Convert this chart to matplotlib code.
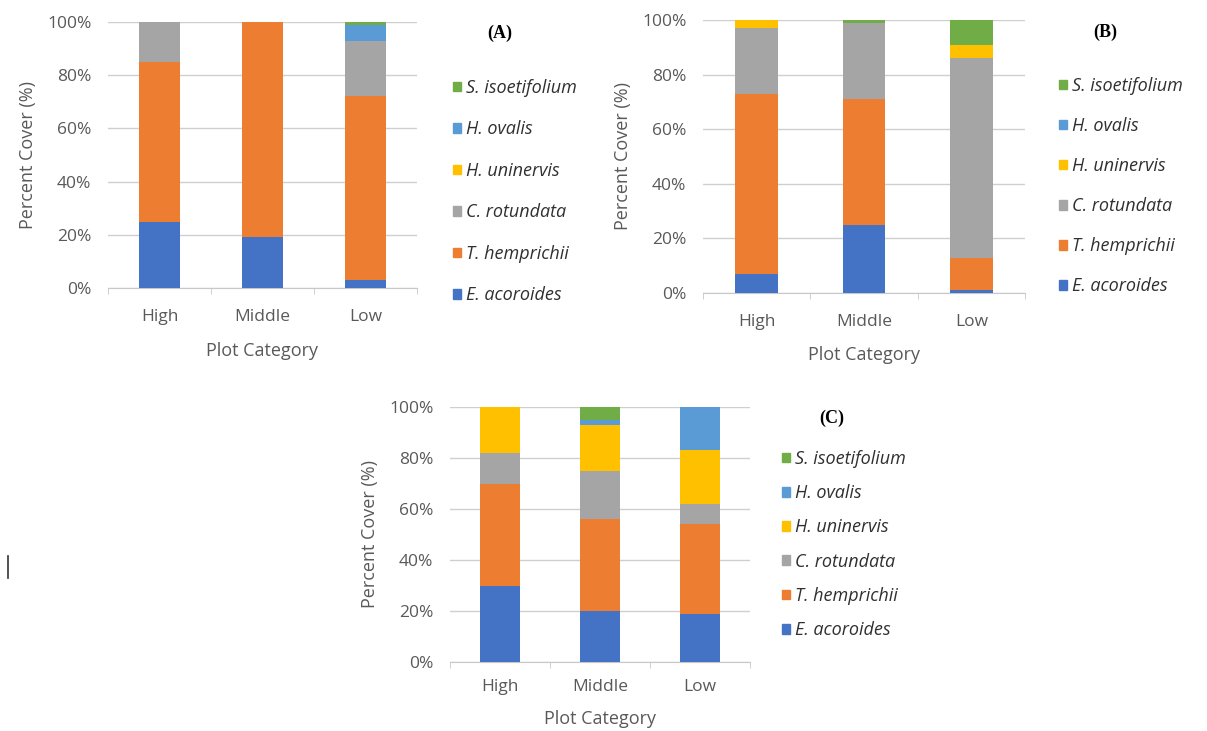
import numpy as np
import matplotlib
matplotlib.use("Agg")
import matplotlib.pyplot as plt
from matplotlib.patches import Patch

plt.rcParams['font.family'] = ['Open Sans', 'DejaVu Sans']

# Plot categories and species (bottom of the stack first)
categories = ['High', 'Middle', 'Low']
species = ['E. acoroides', 'T. hemprichii', 'C. rotundata',
           'H. uninervis', 'H. ovalis', 'S. isoetifolium']
colors = ['#4472C4', '#ED7D31', '#A5A5A5', '#FFC000', '#5B9BD5', '#70AD47']

# Percent cover per species, one list per category order High/Middle/Low
cover_a = {
    'E. acoroides':    [25, 19, 3],
    'T. hemprichii':   [60, 81, 69],
    'C. rotundata':    [15, 0, 21],
    'H. uninervis':    [0, 0, 0],
    'H. ovalis':       [0, 0, 6],
    'S. isoetifolium': [0, 0, 1],
}
cover_b = {
    'E. acoroides':    [7, 25, 1],
    'T. hemprichii':   [66, 46, 12],
    'C. rotundata':    [24, 28, 73],
    'H. uninervis':    [3, 0, 5],
    'H. ovalis':       [0, 0, 0],
    'S. isoetifolium': [0, 1, 9],
}
cover_c = {
    'E. acoroides':    [30, 20, 19],
    'T. hemprichii':   [40, 36, 35],
    'C. rotundata':    [12, 19, 8],
    'H. uninervis':    [18, 18, 21],
    'H. ovalis':       [0, 2, 17],
    'S. isoetifolium': [0, 5, 0],
}

fig = plt.figure(figsize=(12.07, 7.31), dpi=100)
W, H = 1207, 731
TXT = '#595959'


def stacked_panel(rect, data, tag, tag_xy, legend_xy, labelspacing, xpad, xlpad):
    ax = fig.add_axes(rect)
    x = np.arange(len(categories))
    bottom = np.zeros(len(categories))
    for sp, col in zip(species, colors):
        vals = np.array(data[sp], dtype=float)
        ax.bar(x, vals, 0.4, bottom=bottom, color=col, label=sp, zorder=3)
        bottom += vals
    ax.set_xlim(-0.5, 2.5)
    ax.set_ylim(0, 100)
    ax.set_yticks(np.arange(0, 101, 20))
    ax.set_yticklabels([f'{v}%' for v in range(0, 101, 20)])
    ax.set_xticks(x)
    ax.set_xticklabels(categories)
    ax.set_xticks([-0.5, 0.5, 1.5, 2.5], minor=True)
    ax.tick_params(axis='x', which='major', length=0, pad=xpad)
    ax.tick_params(axis='x', which='minor', length=4, color='#c8c8c8')
    ax.tick_params(axis='y', length=0, pad=12)
    ax.tick_params(labelsize=12.5, labelcolor=TXT)
    ax.grid(axis='y', color='#cfcfcf', lw=1, zorder=0)
    for s in ['top', 'right', 'left']:
        ax.spines[s].set_visible(False)
    ax.spines['bottom'].set_color('#c8c8c8')
    ax.set_xlabel('Plot Category', fontsize=13, color=TXT, labelpad=xlpad)
    ax.set_ylabel('Percent Cover (%)', fontsize=13, color=TXT, labelpad=7)

    fig.text(tag_xy[0], tag_xy[1], tag, family='Liberation Serif',
             fontweight='bold', fontsize=13, ha='center', va='center')
    handles = [Patch(color=c, label=s) for s, c in zip(species, colors)][::-1]
    fig.legend(handles=handles, loc='upper left', bbox_to_anchor=legend_xy,
               frameon=False, prop={'style': 'italic', 'size': 13},
               handlelength=0.45, handleheight=0.45, handletextpad=0.25,
               labelspacing=labelspacing, labelcolor='#303030',
               borderaxespad=0, borderpad=0)
    return ax


stacked_panel([108 / W, 1 - 288 / H, 309 / W, 266 / H], cover_a, '(A)',
              (500 / W, 1 - 33 / H), (453 / W, 1 - 79 / H), 1.30, 15, 12)
stacked_panel([703 / W, 1 - 293 / H, 322 / W, 273 / H], cover_b, '(B)',
              (1105 / W, 1 - 32 / H), (1059 / W, 1 - 77 / H), 1.22, 15, 12)
stacked_panel([450 / W, 1 - 662 / H, 300 / W, 255 / H], cover_c, '(C)',
              (832 / W, 1 - 418 / H), (782 / W, 1 - 450 / H), 0.90, 12, 11)

fig.add_artist(plt.Line2D([8 / W, 8 / W], [1 - 556 / H, 1 - 578 / H],
                          color='#333333', lw=1.2))

fig.savefig('out.png', dpi=100, facecolor='white')
